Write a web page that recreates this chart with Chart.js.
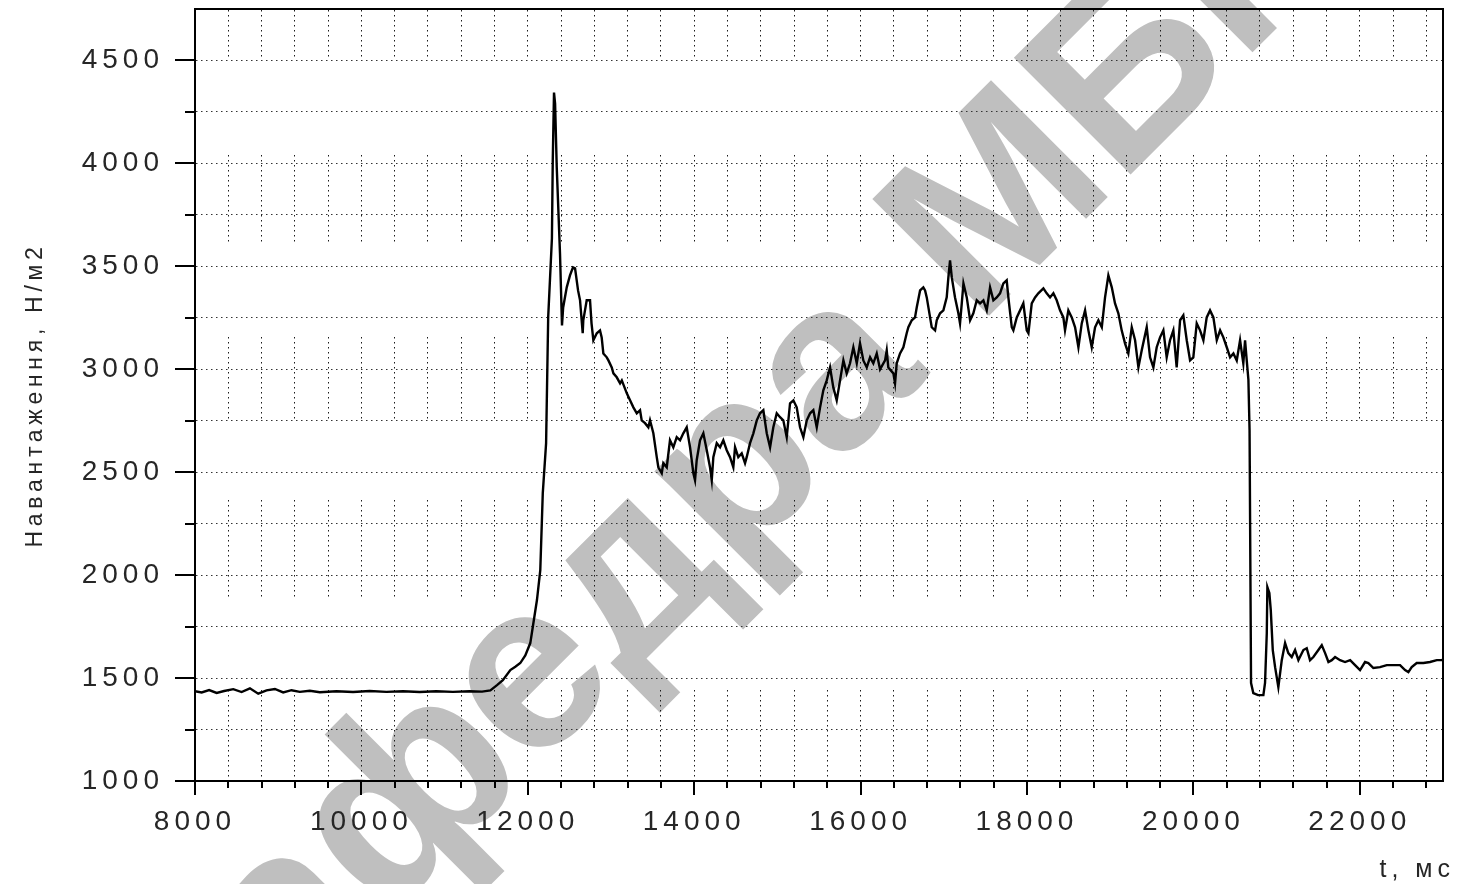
<!DOCTYPE html>
<html>
<head>
<meta charset="utf-8">
<title>Навантаження</title>
<script src="https://cdn.jsdelivr.net/npm/chart.js@4/dist/chart.umd.min.js"></script>
<style>
  html, body { margin: 0; padding: 0; background: #fff; overflow: hidden; }
  canvas { display: block; }
</style>
</head>
<body>
<canvas id="chart" width="1461" height="884"></canvas>
<script>
// Load record: time, ms
const timeMs = [
  8000, 8080, 8170, 8260, 8350, 8460, 8560, 8660, 8760, 8860, 8960, 9060, 9160, 9260, 9380, 9500,
  9700, 9900, 10100, 10300, 10500, 10700, 10900, 11100, 11300, 11450, 11550, 11630, 11700, 11790,
  11850, 11910, 11970, 12030, 12060, 12110, 12150, 12180, 12220, 12245, 12290, 12300, 12315, 12328,
  12348, 12387, 12411, 12425, 12468, 12507, 12543, 12568, 12604, 12628, 12660, 12667, 12708, 12748,
  12766, 12788, 12829, 12868, 12888, 12908, 12949, 12969, 13009, 13029, 13069, 13109, 13130, 13190,
  13229, 13269, 13310, 13349, 13369, 13409, 13449, 13469, 13509, 13550, 13569, 13610, 13629, 13670,
  13709, 13749, 13790, 13830, 13869, 13910, 13950, 13990, 14010, 14030, 14070, 14110, 14151, 14190,
  14211, 14230, 14271, 14311, 14350, 14391, 14431, 14470, 14491, 14530, 14571, 14611, 14631, 14671,
  14711, 14752, 14791, 14831, 14872, 14912, 14951, 14992, 15032, 15071, 15112, 15152, 15192, 15232,
  15272, 15312, 15353, 15393, 15432, 15473, 15513, 15552, 15593, 15633, 15672, 15713, 15753, 15793,
  15833, 15873, 15913, 15954, 15993, 16033, 16074, 16114, 16153, 16194, 16234, 16294, 16314, 16333,
  16394, 16414, 16434, 16474, 16514, 16554, 16574, 16615, 16654, 16675, 16715, 16754, 16775, 16795,
  16835, 16855, 16895, 16915, 16955, 16995, 17035, 17055, 17075, 17096, 17135, 17175, 17195, 17216,
  17236, 17276, 17316, 17355, 17396, 17436, 17476, 17516, 17556, 17596, 17636, 17676, 17716, 17756,
  17776, 17817, 17836, 17877, 17917, 17956, 17997, 18017, 18057, 18097, 18136, 18197, 18237, 18277,
  18317, 18357, 18397, 18437, 18457, 18497, 18538, 18578, 18618, 18658, 18698, 18738, 18778, 18818,
  18858, 18899, 18938, 18978, 19019, 19058, 19098, 19138, 19178, 19218, 19259, 19299, 19339, 19379,
  19439, 19479, 19519, 19559, 19599, 19639, 19679, 19719, 19759, 19799, 19840, 19879, 19920, 19960,
  19999, 20040, 20080, 20120, 20160, 20200, 20240, 20281, 20321, 20360, 20401, 20441, 20481, 20521,
  20561, 20600, 20621, 20641, 20661, 20675, 20693, 20720, 20777, 20841, 20861, 20882, 20889, 20913,
  20930, 20954, 20982, 21021, 21062, 21102, 21141, 21182, 21222, 21262, 21322, 21362, 21402, 21442,
  21502, 21543, 21583, 21623, 21663, 21703, 21763, 21823, 21884, 21943, 22003, 22063, 22103, 22163,
  22243, 22324, 22404, 22484, 22544, 22584, 22624, 22684, 22764, 22844, 22925, 22985, 23000
];

// Load record: value, N/m2
const loadValues = [
  1436, 1430, 1442, 1428, 1437, 1446, 1432, 1450, 1424, 1440, 1447, 1430, 1441, 1433, 1438, 1431,
  1436, 1432, 1437, 1433, 1436, 1432, 1436, 1433, 1436, 1434, 1440, 1466, 1490, 1539,
  1555, 1573, 1610, 1670, 1748, 1879, 2024, 2398, 2641, 3252, 3636, 4014, 4344, 4290,
  3980, 3563, 3213, 3300, 3398, 3456, 3495, 3490, 3383, 3335, 3175, 3238, 3335, 3335,
  3223, 3141, 3175, 3189, 3155, 3077, 3058, 3043, 3009, 2980, 2961, 2932, 2946, 2883,
  2849, 2815, 2786, 2801, 2752, 2738, 2718, 2752, 2689, 2573, 2524, 2495, 2544, 2524,
  2655, 2621, 2670, 2655, 2689, 2718, 2621, 2495, 2461, 2558, 2655, 2689, 2607, 2524,
  2461, 2573, 2641, 2621, 2655, 2607, 2573, 2524, 2621, 2573, 2592, 2544, 2573, 2641,
  2689, 2752, 2786, 2801, 2689, 2621, 2718, 2786, 2767, 2752, 2670, 2835, 2849, 2815,
  2718, 2670, 2752, 2786, 2801, 2718, 2815, 2898, 2946, 3009, 2912, 2849, 2946, 3043,
  2980, 3029, 3107, 3029, 3126, 3043, 3009, 3058, 3029, 3077, 3000, 3043, 3092, 3009,
  2980, 2932, 3029, 3077, 3107, 3175, 3204, 3238, 3252, 3301, 3383, 3398, 3383, 3349,
  3252, 3204, 3189, 3238, 3272, 3286, 3349, 3446, 3529, 3446, 3349, 3272, 3223, 3320,
  3417, 3349, 3238, 3272, 3335, 3320, 3335, 3286, 3398, 3335, 3349, 3369, 3417, 3432,
  3349, 3204, 3189, 3252, 3286, 3320, 3189, 3175, 3320, 3349, 3369, 3393, 3369, 3349,
  3369, 3335, 3286, 3252, 3189, 3286, 3252, 3204, 3107, 3223, 3286, 3189, 3107, 3204,
  3238, 3204, 3349, 3456, 3398, 3320, 3272, 3189, 3126, 3077, 3204, 3141, 3009, 3092,
  3204, 3058, 3009, 3107, 3155, 3189, 3058, 3141, 3189, 3009, 3238, 3262, 3141, 3043,
  3058, 3223, 3189, 3141, 3252, 3286, 3252, 3141, 3189, 3155, 3107, 3058, 3077, 3043,
  3141, 3029, 3141, 3043, 2950, 2704, 1476, 1427, 1417, 1417, 1476, 1718, 1942, 1913,
  1830, 1636, 1553, 1456, 1587, 1670, 1621, 1602, 1636, 1587, 1636, 1645, 1587, 1602,
  1636, 1660, 1621, 1578, 1587, 1602, 1587, 1578, 1587, 1563, 1539, 1578, 1573, 1549,
  1553, 1563, 1563, 1563, 1539, 1529, 1553, 1573, 1573, 1578, 1587, 1587, 1590
];

// Axis tick labels
const xTickLabels = ['8000', '10000', '12000', '14000', '16000', '18000', '20000', '22000'];
const yTickLabels = ['1000', '1500', '2000', '2500', '3000', '3500', '4000', '4500'];

// Axis titles and sheet stamp
const xTitle = 't, мс';
const yTitle = 'Навантаження, Н/м2';
const stampText = 'кафедра МБГ';

const FONT = '"Liberation Sans", Arial, Helvetica, sans-serif';
const TEXT_COLOR = '#262626';

// Dotted vertical grid lines are printed in bands down the plot
function bandedDots(bands, dot, step) {
  const starts = [];
  bands.forEach(([a, b]) => {
    for (let p = a; p <= b - dot; p += step) starts.push(p);
  });
  const dash = [0, starts[0]];
  starts.forEach((s, i) => {
    const next = i + 1 < starts.length ? starts[i + 1] : s + 3000;
    dash.push(dot, next - s - dot);
  });
  return dash;
}
const verticalGridDash = bandedDots([[1, 48], [146, 234], [328, 413], [491, 591], [681, 772]], 1.5, 5);

// Keep the plot box fixed: no extra room for edge labels
function fixBox(size, vertical) {
  return scale => {
    if (vertical) scale.width = size; else scale.height = size;
    scale.paddingTop = 0;
    scale.paddingBottom = 0;
    scale.paddingLeft = 0;
    scale.paddingRight = 0;
  };
}

// Background, faint stamp and text spacing
const sheetPlugin = {
  id: 'sheet',
  beforeDraw(chart) {
    const { ctx, width, height } = chart;
    ctx.save();
    ctx.letterSpacing = '0px';
    ctx.fillStyle = '#ffffff';
    ctx.fillRect(0, 0, width, height);
    const size = 240;
    ctx.font = `bold ${size}px ${FONT}`;
    ctx.fillStyle = '#bfbfbf';
    ctx.translate(535, 680);
    ctx.rotate(-45 * Math.PI / 180);
    const lead = ctx.measureText('каф').width + ctx.measureText('е').width / 2;
    ctx.textBaseline = 'alphabetic';
    ctx.fillText(stampText, -lead, 0.265 * size);
    ctx.restore();
    ctx.letterSpacing = '5px';
  }
};

// Plot frame, tick marks and axis titles
const axisDecorPlugin = {
  id: 'axisDecor',
  afterDraw(chart) {
    const { ctx, chartArea: a, scales: { x, y } } = chart;
    ctx.save();
    ctx.setLineDash([]);
    ctx.strokeStyle = '#000';
    ctx.lineWidth = 2;
    ctx.beginPath();
    ctx.moveTo(a.left, a.top);
    ctx.lineTo(a.right, a.top);
    ctx.lineTo(a.right, a.bottom);
    ctx.stroke();

    ctx.beginPath();
    x.ticks.forEach(t => {
      const px = Math.round(x.getPixelForValue(t.value));
      const len = xTickLabels.includes(String(t.value)) ? 14 : 7;
      ctx.moveTo(px, a.bottom);
      ctx.lineTo(px, a.bottom + len);
    });
    y.ticks.forEach(t => {
      if (t.value >= y.max) return;
      const py = Math.round(y.getPixelForValue(t.value));
      const len = yTickLabels.includes(String(t.value)) ? 20 : 10;
      ctx.moveTo(a.left - len, py);
      ctx.lineTo(a.left, py);
    });
    ctx.stroke();

    ctx.fillStyle = TEXT_COLOR;
    ctx.letterSpacing = '5px';
    ctx.font = `25px ${FONT}`;
    ctx.textAlign = 'right';
    ctx.textBaseline = 'alphabetic';
    ctx.fillText(xTitle, 1455, 877);

    ctx.translate(42, 395);
    ctx.rotate(-Math.PI / 2);
    ctx.letterSpacing = '4.7px';
    ctx.font = `23px ${FONT}`;
    ctx.textAlign = 'center';
    ctx.fillText(yTitle, 0, 0);
    ctx.restore();
  }
};

const points = timeMs.map((t, i) => ({ x: t, y: loadValues[i] }));

new Chart(document.getElementById('chart'), {
  type: 'line',
  data: {
    datasets: [{
      data: points,
      borderColor: '#000',
      borderWidth: 2.4,
      pointRadius: 0,
      tension: 0,
      fill: false
    }]
  },
  options: {
    responsive: false,
    animation: false,
    devicePixelRatio: 1,
    events: [],
    layout: { autoPadding: false, padding: { top: 9, right: 18, left: 0, bottom: 0 } },
    plugins: { legend: { display: false }, tooltip: { enabled: false }, title: { display: false } },
    scales: {
      x: {
        type: 'linear',
        min: 8000,
        max: 23000,
        afterFit: fixBox(103, false),
        ticks: {
          stepSize: 400,
          includeBounds: false,
          autoSkip: false,
          maxRotation: 0,
          padding: 24,
          color: TEXT_COLOR,
          font: { family: FONT, size: 28 },
          callback: v => (xTickLabels.includes(String(v)) ? String(v) : '')
        },
        grid: { drawTicks: false, color: '#1a1a1a', lineWidth: 1 },
        border: { display: true, color: '#000', width: 2, dash: verticalGridDash }
      },
      y: {
        type: 'linear',
        min: 1000,
        max: 4750,
        afterFit: fixBox(195, true),
        ticks: {
          stepSize: 250,
          autoSkip: false,
          padding: 31,
          color: TEXT_COLOR,
          font: { family: FONT, size: 28 },
          callback: v => (yTickLabels.includes(String(v)) ? String(v) : '')
        },
        grid: { drawTicks: false, color: '#333', lineWidth: 1 },
        border: { display: true, color: '#000', width: 2, dash: [1.5, 3.5] }
      }
    }
  },
  plugins: [sheetPlugin, axisDecorPlugin]
});
</script>
</body>
</html>
